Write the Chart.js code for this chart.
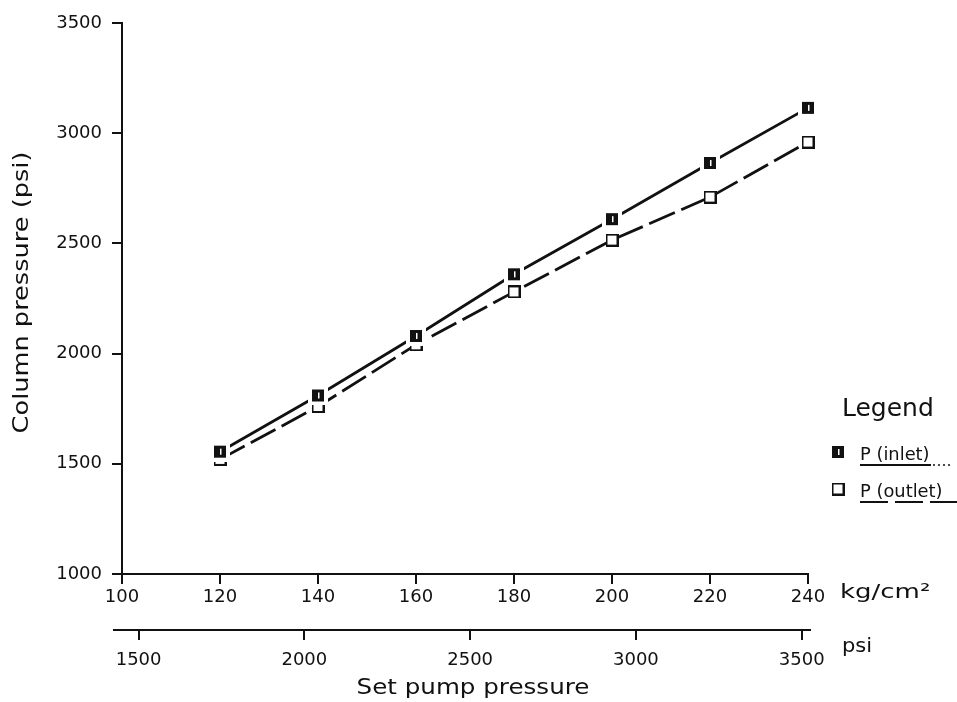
<!DOCTYPE html>
<html>
<head>
<meta charset="utf-8">
<title>Column pressure vs set pump pressure</title>
<script src="https://cdn.jsdelivr.net/npm/chart.js@4.4.1/dist/chart.umd.min.js"></script>
<style>
  html, body { margin: 0; padding: 0; background: #fff; }
  canvas { display: block; }
</style>
</head>
<body>
<canvas id="chart" width="957" height="702"></canvas>
<script>
// Set pump pressure (kg/cm²) for each run
const pumpKg = [120, 140, 160, 180, 200, 220, 240];
// Column pressure readings (psi)
const inletPsi = [1555, 1810, 2080, 2360, 2610, 2865, 3115];
const outletPsi = [1520, 1760, 2040, 2280, 2515, 2710, 2960];

// Axis ticks
const kgTicks = [100, 120, 140, 160, 180, 200, 220, 240];
const psiTicks = [1500, 2000, 2500, 3000, 3500];
const columnTicks = [1000, 1500, 2000, 2500, 3000, 3500];
// Range of the secondary (psi) pump-pressure scale
const psiRange = [1450, 3519];

const INK = '#111';
const FAMILY = '"DejaVu Sans", sans-serif';

// Marker: solid square with a light notch, on a white halo
function filledMarker() {
  const halo = 4, s = 12;
  const c = document.createElement('canvas');
  c.width = c.height = s + 2 * halo;
  const g = c.getContext('2d');
  g.fillStyle = '#fff';
  g.fillRect(0, 0, c.width, c.height);
  g.fillStyle = INK;
  g.fillRect(halo, halo, s, s);
  g.fillStyle = '#fff';
  g.fillRect(halo + s / 2, halo + 3, 1.5, s - 6);
  return c;
}

// Marker: open square
function openMarker() {
  const s = 13;
  const c = document.createElement('canvas');
  c.width = c.height = s;
  const g = c.getContext('2d');
  g.fillStyle = '#fff';
  g.fillRect(0, 0, s, s);
  g.strokeStyle = INK;
  g.lineWidth = 2;
  g.strokeRect(1, 1, s - 2, s - 2);
  return c;
}

const inletMarker = filledMarker();
const outletMarker = openMarker();

function points(values) {
  return pumpKg.map((k, i) => ({ x: k, y: values[i] }));
}

function fixedTicks(list) {
  return scale => { scale.ticks = list.map(v => ({ value: v })); };
}

// Text drawn with a horizontal stretch (wide geometric lettering)
function wideText(ctx, text, x, y, o) {
  ctx.save();
  ctx.translate(x, y);
  if (o.rotate) ctx.rotate(o.rotate);
  ctx.scale(o.stretch || 1, 1);
  ctx.font = o.font;
  ctx.fillStyle = INK;
  ctx.textAlign = o.align || 'left';
  ctx.textBaseline = o.baseline || 'alphabetic';
  ctx.fillText(text, 0, 0);
  ctx.restore();
}

const decorations = {
  id: 'decorations',
  afterDraw(chart) {
    const { ctx, chartArea: ca, scales } = chart;
    const x = scales.x, x2 = scales.x2;

    // secondary axis line (runs a little past both ends)
    ctx.save();
    ctx.strokeStyle = INK;
    ctx.lineWidth = 2;
    ctx.beginPath();
    ctx.moveTo(x2.left - 9, x2.top);
    ctx.lineTo(x2.right + 3, x2.top);
    ctx.stroke();
    ctx.restore();

    // axis titles
    wideText(ctx, 'Column pressure (psi)', 23, (ca.top + ca.bottom) / 2 - 6,
      { rotate: -Math.PI / 2, align: 'center', baseline: 'middle', font: '21px ' + FAMILY, stretch: 1.22 });
    wideText(ctx, 'Set pump pressure', (ca.left + ca.right) / 2 + 8, 694,
      { align: 'center', font: '21px ' + FAMILY, stretch: 1.17 });

    // unit labels at the right end of each scale
    wideText(ctx, 'kg/cm²', x.right + 32, x.top + 23.5, { font: '20px ' + FAMILY, stretch: 1.3 });
    wideText(ctx, 'psi', x2.right + 34, 652, { font: '20px ' + FAMILY, stretch: 1.05 });

    // legend
    const lx = ca.right + 30;
    wideText(ctx, 'Legend', lx + 4, 416, { font: '25px ' + FAMILY });
    const rows = [{ y: 452, base: 460, line: 465 }, { y: 489, base: 497, line: 502 }];
    chart.data.datasets.forEach((ds, i) => {
      const r = rows[i];
      const img = ds.pointStyle;
      ctx.drawImage(img, lx - img.width / 2, r.y - img.height / 2);
      wideText(ctx, ds.label, lx + 22, r.base, { font: '17px ' + FAMILY, stretch: 1.05 });
      ctx.save();
      ctx.strokeStyle = INK;
      ctx.lineWidth = 2;
      ctx.setLineDash(ds.borderDash || []);
      ctx.beginPath();
      ctx.moveTo(lx + 22, r.line);
      ctx.lineTo(lx + (ds.borderDash ? 120 : 93), r.line);
      ctx.stroke();
      if (!ds.borderDash) {
        ctx.lineWidth = 1.5;
        ctx.setLineDash([2, 3]);
        ctx.beginPath();
        ctx.moveTo(lx + 95, r.line);
        ctx.lineTo(lx + 114, r.line);
        ctx.stroke();
      }
      ctx.restore();
    });
  }
};

const tickFont = { family: FAMILY, size: 18 };
const axisGrid = { drawOnChartArea: false, tickLength: 10, color: INK, lineWidth: 2 };
const plainNumber = v => String(v);

new Chart(document.getElementById('chart'), {
  type: 'line',
  data: {
    datasets: [
      {
        label: 'P (inlet)',
        data: points(inletPsi),
        xAxisID: 'x', yAxisID: 'y',
        borderColor: INK,
        borderWidth: 2.8,
        pointStyle: inletMarker,
        pointRadius: 6,
        tension: 0,
        clip: false
      },
      {
        label: 'P (outlet)',
        data: points(outletPsi),
        xAxisID: 'x', yAxisID: 'y',
        borderColor: INK,
        borderWidth: 2.8,
        borderDash: [28, 7],
        pointStyle: outletMarker,
        pointRadius: 6,
        tension: 0,
        clip: false
      }
    ]
  },
  options: {
    responsive: false,
    animation: false,
    devicePixelRatio: 1,
    layout: { padding: { top: 23, right: 149, bottom: 0, left: 0 } },
    plugins: { legend: { display: false }, tooltip: { enabled: false } },
    scales: {
      x: {
        type: 'linear', position: 'bottom', weight: 0,
        min: 100, max: 240,
        afterBuildTicks: fixedTicks(kgTicks),
        afterFit: s => { s.height = 56; },
        grid: axisGrid,
        border: { color: INK, width: 2 },
        ticks: { font: tickFont, color: INK, padding: 3, maxRotation: 0, autoSkip: false, callback: plainNumber }
      },
      x2: {
        type: 'linear', position: 'bottom', weight: 1,
        min: psiRange[0], max: psiRange[1],
        afterBuildTicks: fixedTicks(psiTicks),
        afterFit: s => { s.height = 72; },
        grid: axisGrid,
        border: { display: false },
        ticks: { font: tickFont, color: INK, padding: 10, maxRotation: 0, autoSkip: false, callback: plainNumber }
      },
      y: {
        type: 'linear', position: 'left',
        min: 1000, max: 3500,
        afterBuildTicks: fixedTicks(columnTicks),
        afterFit: s => { s.width = 122; },
        grid: axisGrid,
        border: { color: INK, width: 2 },
        ticks: { font: tickFont, color: INK, padding: 10, callback: plainNumber }
      }
    }
  },
  plugins: [decorations]
});
</script>
</body>
</html>
